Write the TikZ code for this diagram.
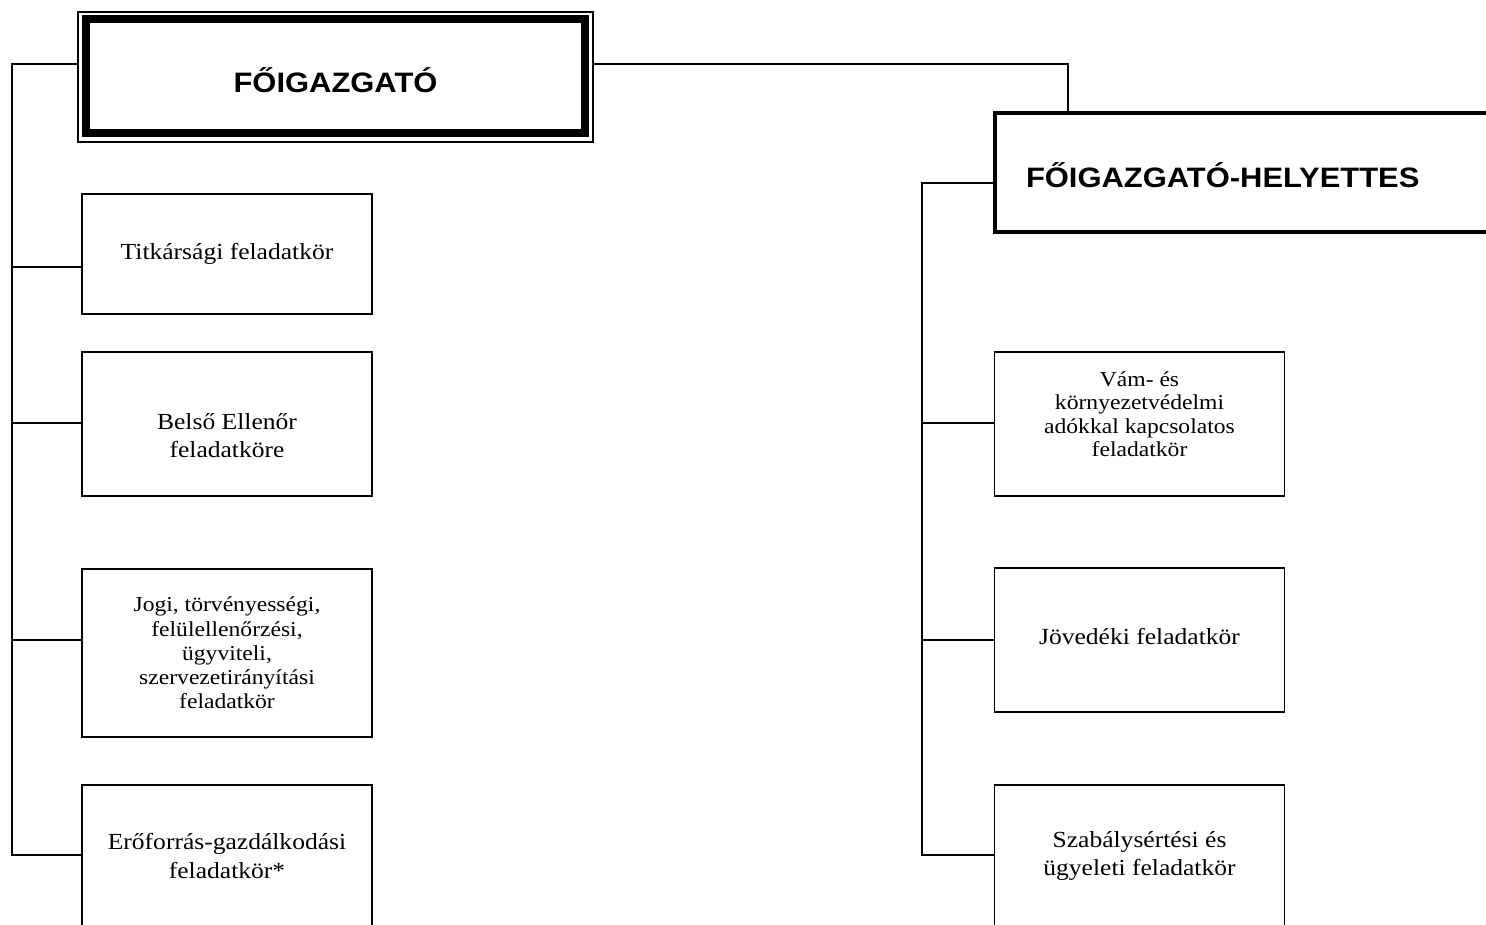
\documentclass[tikz,border=0pt]{standalone}
\usepackage{fontspec}
\setmainfont{Liberation Serif}[FakeStretch=1.11]
\newfontfamily\headfont{Liberation Sans}[FakeStretch=1.1]
\usetikzlibrary{calc}

\begin{document}
\begin{tikzpicture}[x=0.02cm,y=-0.02cm,
    every node/.style={inner sep=0,outer sep=0},
    unit/.style={draw,line width=0.75pt,align=center,minimum width=5.8cm,
        font=\fontsize{13.1}{16}\selectfont},
    small/.style={font=\fontsize{12.1}{13.8}\selectfont},
    head/.style={font=\headfont\bfseries\fontsize{16}{19}\selectfont},
    link/.style={line width=0.75pt}]
    \useasboundingbox (0,0) rectangle (1486,925);
    \clip (0,0) rectangle (1486,925);
    \node[draw,line width=0.75pt,minimum width=10.3cm,minimum height=2.6cm,head,
        text height=0.64cm,text depth=0cm](fo) at (335.5,77) {FŐIGAZGATÓ};
    \draw[line width=4.5pt] ($(fo.north west)+(8,7)$) rectangle ($(fo.south east)+(-8,-9)$);
    \node[draw,line width=2.3pt,anchor=west,minimum height=2.38cm,text width=9.46cm,
        inner xsep=0.62cm,align=left,head,text height=0.62cm,text depth=0cm](fh) at (995,172.5) {FŐIGAZGATÓ-HELYETTES};
    \node[unit,minimum height=2.4cm](l1) at (227,254) {Titkársági feladatkör};
    \node[unit,minimum height=2.88cm,text height=1.36cm,text depth=0cm](l2) at (227,424) {Belső Ellenőr\\feladatköre};
    \node[unit,small,minimum height=3.36cm](l3) at (227,653) {Jogi, törvényességi,\\felülellenőrzési,\\ügyviteli,\\szervezetirányítási\\feladatkör};
    \node[unit,minimum height=2.84cm](l4) at (227,856) {Erőforrás-gazdálkodási\\feladatkör*};
    \node[unit,font=\fontsize{12.1}{13.25}\selectfont,minimum height=2.88cm,text depth=0.4cm](r1) at (1139.5,424) {Vám- és\\környezetvédelmi\\adókkal kapcsolatos\\feladatkör};
    \node[unit,minimum height=2.88cm,text depth=0.16cm](r2) at (1139.5,640) {Jövedéki feladatkör};
    \node[unit,minimum height=2.84cm](r3) at (1139.5,856) {Szabálysértési és\\ügyeleti feladatkör};
    \coordinate (ltop) at (12,64);
    \coordinate (lbot) at (12,855);
    \coordinate (rtop) at (922,183);
    \coordinate (rbot) at (922,855);
    \coordinate (turn) at (1068,64);
    \draw[link] (fo.west |- ltop) -- (ltop) -- (lbot) -- (l4.west |- lbot);
    \draw[link] (fo.east |- turn) -- (turn) -- (turn |- fh.north);
    \draw[link] (fh.west |- rtop) -- (rtop) -- (rbot) -- (r3.west |- rbot);
    \foreach \n/\y in {l1/267,l2/423,l3/640}
        \draw[link] (12,\y) -- (\n.west |- 0,\y);
    \foreach \n/\y in {r1/423,r2/640}
        \draw[link] (922,\y) -- (\n.west |- 0,\y);
\end{tikzpicture}
\end{document}
